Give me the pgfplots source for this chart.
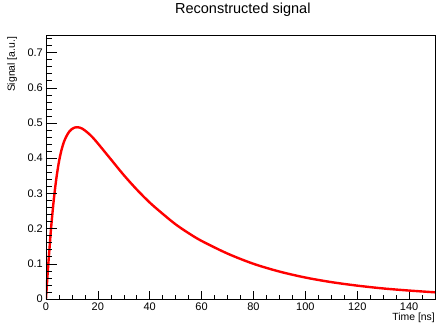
\documentclass[border=0pt]{standalone}
\usepackage{fontspec}
\setmainfont{Liberation Sans}
\usepackage{pgfplots}
\pgfplotsset{compat=1.18}
\begin{document}
\begin{tikzpicture}
\pgfplotsset{common/.style={scale only axis, width=389pt, height=264pt,
  xmin=0, xmax=150, ymin=0, ymax=0.75,
  axis line style={line width=0.7pt, black},
  tick align=inside, xtick pos=bottom, ytick pos=left,
  /pgf/number format/assume math mode=true,
  tick style={black, line width=0.6pt}}}
\begin{axis}[common, at={(0,0)}, anchor=south west,
  xtick={0,20,40,60,80,100,120,140}, minor xtick={5,10,...,145}, ytick=\empty,
  major tick length=7.7pt, minor tick length=3.9pt,
  xticklabel style={font=\fontsize{11}{13}\selectfont, inner sep=0pt, yshift=-3.5pt},
  xlabel={Time [ns]},
  xlabel style={at={(axis description cs:1,-0.0715)}, anchor=east, inner sep=0pt, font=\fontsize{10.4}{12}\selectfont},
  ylabel={Signal [a.u.]},
  ylabel style={at={(axis description cs:-0.087,0.993)}, anchor=east, inner sep=0pt, font=\fontsize{10.4}{12}\selectfont},
  title={Reconstructed signal},
  title style={at={(axis description cs:0.506,1)}, anchor=base, yshift=16pt, inner sep=0pt, font=\fontsize{14.5}{17}\selectfont}]
\addplot[red, line width=2.4pt, line join=round, smooth, tension=0.5] coordinates {
(0,0) (0.5,0.058) (1,0.110) (1.5,0.158) (2,0.205) (3,0.282) (4,0.343) (5,0.390)
(6,0.424) (7,0.448) (8,0.464) (9,0.476) (10,0.483) (11,0.487) (12,0.488)
(13,0.487) (14,0.484) (16,0.473) (18,0.459) (20,0.442) (22,0.424) (25,0.397)
(30,0.352) (35,0.311) (40,0.274) (45,0.242) (50,0.212) (55,0.187) (60,0.165)
(70,0.129) (80,0.100) (90,0.078) (100,0.061) (110,0.048) (120,0.038)
(130,0.030) (140,0.024) (150,0.019)};
\end{axis}
\begin{axis}[common, at={(0,0)}, anchor=south west,
  xtick=\empty, ytick={0,0.1,0.2,0.3,0.4,0.5,0.6,0.7},
  minor ytick={0.02,0.04,...,0.745},
  major tick length=11.3pt, minor tick length=5.7pt,
  yticklabel style={font=\fontsize{11}{13}\selectfont, inner sep=0pt, xshift=-3pt}]
\end{axis}
\pgfresetboundingbox
\path[use as bounding box] (-46pt,-23pt) rectangle (390pt,299pt);
\end{tikzpicture}
\end{document}
